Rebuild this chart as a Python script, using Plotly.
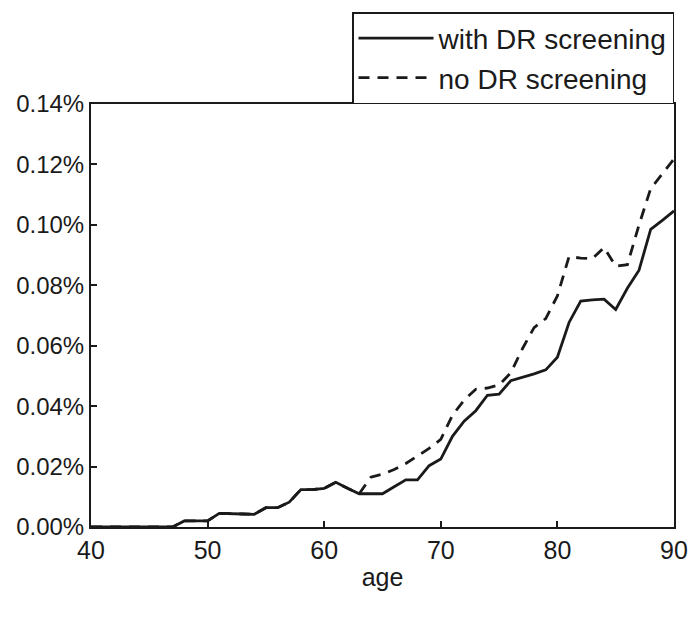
import plotly.graph_objects as go

ages = list(range(40, 91))

with_dr = [0, 0, 0, 0, 0, 0, 0, 0,            # 40-47
           0.0020, 0.0020, 0.0020,             # 48-50
           0.0045, 0.0045, 0.0043, 0.0042,     # 51-54
           0.0064, 0.0064, 0.0082, 0.0124,     # 55-58
           0.0124, 0.0128, 0.0148, 0.0128,     # 59-62
           0.0110, 0.0110, 0.0110, 0.0133,     # 63-66
           0.0156, 0.0156, 0.0203, 0.0225,     # 67-70
           0.0300, 0.0350, 0.0385, 0.0436,     # 71-74
           0.0440, 0.0484, 0.0495, 0.0507,     # 75-78
           0.0520, 0.0562, 0.0677, 0.0748,     # 79-82
           0.0752, 0.0754, 0.0720, 0.0790,     # 83-86
           0.0850, 0.0985, 0.1015, 0.1046]     # 87-90

no_dr = with_dr[:24] + [                       # 40-63 identical
         0.0165, 0.0175, 0.0190, 0.0210,       # 64-67
         0.0235, 0.0260, 0.0290, 0.0370,       # 68-71
         0.0420, 0.0456, 0.0460, 0.0470,       # 72-75
         0.0510, 0.0590, 0.0660, 0.0690,       # 76-79
         0.0765, 0.0895, 0.0890, 0.0888,       # 80-83
         0.0925, 0.0863, 0.0868, 0.1000,       # 84-87
         0.1120, 0.1170, 0.1218]               # 88-90

x_ticks = [40, 50, 60, 70, 80, 90]
y_ticks = [0.00, 0.02, 0.04, 0.06, 0.08, 0.10, 0.12, 0.14]
y_tick_labels = ["0.00%", "0.02%", "0.04%", "0.06%", "0.08%", "0.10%", "0.12%", "0.14%"]

FONT = "Liberation Sans, Arial, sans-serif"
INK = "#1a1a1a"

fig = go.Figure()
fig.add_trace(go.Scatter(x=ages, y=no_dr, mode="lines", name="no DR screening",
                         line=dict(color=INK, width=2.8, dash="11px,8px")))
fig.add_trace(go.Scatter(x=ages, y=with_dr, mode="lines", name="with DR screening",
                         line=dict(color=INK, width=2.8)))

fig.update_layout(
    width=689, height=618,
    margin=dict(l=91, r=15, t=100, b=91),
    paper_bgcolor="white", plot_bgcolor="white",
    font=dict(family=FONT, size=24, color=INK),
    showlegend=True,
    legend=dict(x=1, xanchor="right", y=1, yanchor="bottom",
                bordercolor=INK, borderwidth=1.5, bgcolor="white",
                font=dict(family=FONT, size=28, color=INK),
                traceorder="reversed", itemwidth=75,
                tracegroupgap=0),
    xaxis=dict(range=[40, 90], tickvals=x_ticks, ticks="inside", ticklen=6,
               tickwidth=1.5, tickcolor=INK, showline=True, linecolor=INK,
               linewidth=2, mirror=True, showgrid=False, zeroline=False,
               automargin=False, tickfont=dict(size=25),
               title=dict(text="age", font=dict(size=25), standoff=5)),
    yaxis=dict(range=[0, 0.14], tickvals=y_ticks, ticktext=y_tick_labels,
               ticks="inside", ticklen=6, tickwidth=1.5, tickcolor=INK,
               showline=True, linecolor=INK, linewidth=2, mirror=True,
               automargin=False, showgrid=False, zeroline=False,
               tickfont=dict(size=24)),
)

fig.write_html("out.html")
